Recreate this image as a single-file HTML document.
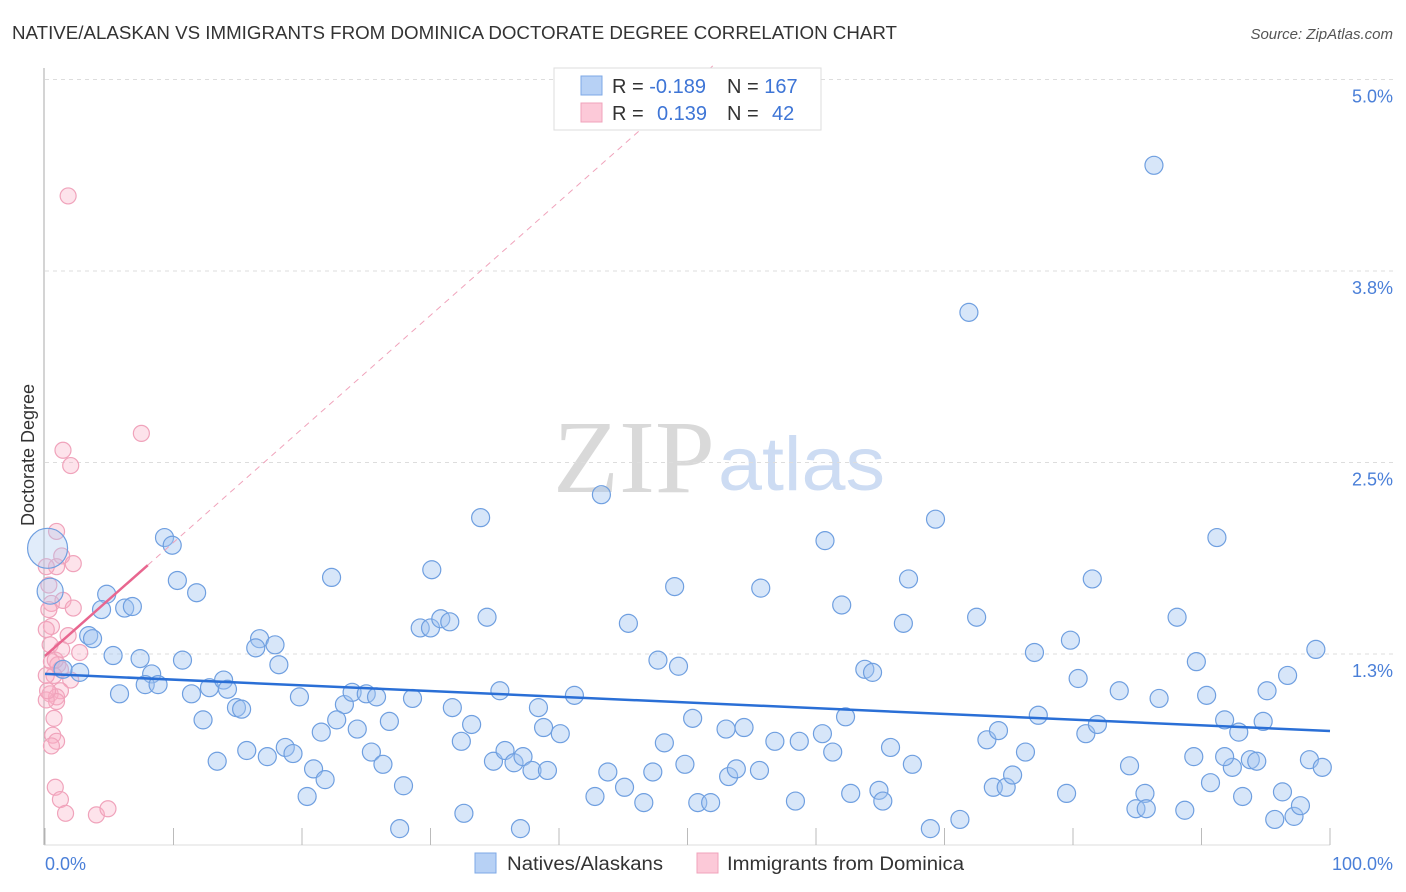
<!DOCTYPE html>
<html><head><meta charset="utf-8"><style>
body{margin:0;background:#fff;font-family:"Liberation Sans",sans-serif;}
svg{display:block}
</style></head><body>
<svg id="chart" width="1406" height="892" viewBox="0 0 1406 892">
<text x="12" y="39" font-size="18" fill="#333" textLength="885" lengthAdjust="spacingAndGlyphs">NATIVE/ALASKAN VS IMMIGRANTS FROM DOMINICA DOCTORATE DEGREE CORRELATION CHART</text>
<text x="1393" y="39" font-size="15" fill="#555" font-style="italic" text-anchor="end">Source: ZipAtlas.com</text>
<text x="553" y="492" font-size="104" fill="#d9d9d9" font-family="Liberation Serif,serif" textLength="162" lengthAdjust="spacingAndGlyphs">ZIP</text>
<text x="718" y="490" font-size="76" fill="#cddcf3" textLength="167" lengthAdjust="spacingAndGlyphs">atlas</text>
<text transform="translate(34,455) rotate(-90)" font-size="18" fill="#333" text-anchor="middle">Doctorate Degree</text>
<g id="grid"></g><g id="marks"></g><g id="trends"></g>
<g>
<rect x="554" y="68" width="267" height="62" fill="#fff" stroke="#ddd"/>
<rect x="581" y="76" width="21" height="19" fill="#b7d1f5" stroke="#7ea8e6"/>
<rect x="581" y="103" width="21" height="19" fill="#fcc9d8" stroke="#f0a3bb"/>
<text x="612" y="93" font-size="20" fill="#333">R = <tspan fill="#3e75d6">-0.189</tspan><tspan x="727">N = </tspan><tspan fill="#3e75d6">167</tspan></text>
<text x="612" y="120" font-size="20" fill="#333">R = <tspan x="657" fill="#3e75d6">0.139</tspan><tspan x="727">N = </tspan><tspan x="772" fill="#3e75d6">42</tspan></text>
</g>
<g>
<rect x="475" y="853" width="21" height="20" fill="#b7d1f5" stroke="#7ea8e6"/>
<text x="507" y="870" font-size="19" fill="#333" textLength="156" lengthAdjust="spacingAndGlyphs">Natives/Alaskans</text>
<rect x="697" y="853" width="21" height="20" fill="#fcc9d8" stroke="#f0a3bb"/>
<text x="727" y="870" font-size="19" fill="#333" textLength="237" lengthAdjust="spacingAndGlyphs">Immigrants from Dominica</text>
</g>
<text x="45" y="870" font-size="18" fill="#4a7fd8">0.0%</text>
<text x="1393" y="870" font-size="18" fill="#4a7fd8" text-anchor="end">100.0%</text>
</svg>
<script>
const yTicks=[1.25,2.5,3.75,5.0];
const yTickLabels=["1.3%","2.5%","3.8%","5.0%"];
const xTicks=[0,10,20,30,40,50,60,70,80,90,100];
const blueX=[9.3,9.9,10.3,11.8,4.8,4.4,6.2,6.8,3.4,3.7,5.3,7.4,10.7,8.3,2.7,1.4,5.8,7.8,8.8,11.4,12.8,13.9,14.2,12.3,14.9,15.3,13.4,15.7,17.3,16.7,17.9,16.4,18.2,19.8,18.7,19.3,20.9,21.8,20.4,22.3,23.3,22.7,21.5,24.3,23.9,25.0,25.8,26.8,25.4,26.3,27.9,27.6,28.6,30.1,29.2,30.0,30.8,31.5,31.7,32.4,33.2,33.9,34.4,32.6,34.9,35.8,36.5,37.2,37.9,35.4,37.0,38.4,38.8,39.1,40.1,41.2,43.3,43.8,42.8,45.1,45.4,46.6,47.3,47.7,48.2,49.0,49.3,49.8,50.4,50.8,51.8,53.0,53.2,53.8,54.4,55.6,55.7,56.8,58.4,58.7,60.7,60.5,61.3,62.0,62.3,62.7,63.8,64.4,64.9,65.2,65.8,66.8,67.2,67.5,69.3,68.9,71.2,71.9,72.5,73.3,73.8,74.2,74.8,75.3,76.3,77.0,77.3,79.5,79.8,80.4,81.0,81.5,81.9,83.6,84.4,84.9,85.6,85.7,86.3,86.7,88.1,88.7,89.4,89.6,90.4,90.7,91.2,91.8,92.4,92.9,93.8,94.3,93.2,94.8,95.1,95.7,96.3,96.7,97.2,97.7,98.4,98.9,99.4,91.8,0.2,0.4];
const blueY=[2.01,1.96,1.73,1.65,1.64,1.54,1.55,1.56,1.37,1.35,1.24,1.22,1.21,1.12,1.13,1.15,0.99,1.05,1.05,0.99,1.03,1.08,1.02,0.82,0.90,0.89,0.55,0.62,0.58,1.35,1.31,1.29,1.18,0.97,0.64,0.60,0.50,0.43,0.32,1.75,0.92,0.82,0.74,0.76,1.00,0.99,0.97,0.81,0.61,0.53,0.39,0.11,0.96,1.80,1.42,1.42,1.48,1.46,0.90,0.68,0.79,2.14,1.49,0.21,0.55,0.62,0.54,0.58,0.49,1.01,0.11,0.90,0.77,0.49,0.73,0.98,2.29,0.48,0.32,0.38,1.45,0.28,0.48,1.21,0.67,1.69,1.17,0.53,0.83,0.28,0.28,0.76,0.45,0.50,0.77,0.49,1.68,0.68,0.29,0.68,1.99,0.73,0.61,1.57,0.84,0.34,1.15,1.13,0.36,0.29,0.64,1.45,1.74,0.53,2.13,0.11,0.17,3.48,1.49,0.69,0.38,0.75,0.38,0.46,0.61,1.26,0.85,0.34,1.34,1.09,0.73,1.74,0.79,1.01,0.52,0.24,0.34,0.24,4.44,0.96,1.49,0.23,0.58,1.20,0.98,0.41,2.01,0.82,0.51,0.74,0.56,0.55,0.32,0.81,1.01,0.17,0.35,1.11,0.19,0.26,0.56,1.28,0.51,0.58,1.94,1.66];
const blueR=blueX.map((v,i)=>i===blueX.length-2?20:(i===blueX.length-1?13:9));
const pinkX=[1.8,7.5,1.4,2.0,0.9,1.3,2.2,0.9,0.1,0.5,1.4,2.2,0.3,0.5,0.1,1.8,2.7,0.5,1.0,1.2,0.7,0.1,2.0,1.2,0.4,0.9,0.9,0.7,0.6,0.9,0.5,0.8,1.2,1.6,4.0,4.9,0.3,0.1,0.4,0.8,0.2,1.3];
const pinkY=[4.24,2.69,2.58,2.48,2.05,1.89,1.84,1.82,1.82,1.58,1.60,1.55,1.54,1.43,1.41,1.37,1.26,1.20,1.18,1.15,1.11,1.11,1.08,1.01,0.99,0.97,0.94,0.83,0.72,0.68,0.65,0.38,0.30,0.21,0.20,0.24,1.70,0.95,1.31,1.21,1.01,1.28];
const blueTrend=[[0,1.12],[100,0.747]];
const pinkTrend=[[0,1.237],[8,1.83]];
const pinkTrendExt=[8,52];

const NS="http://www.w3.org/2000/svg";
const X=v=>45+v*12.85, Y=v=>845.5-v*153.2;
function mk(tag,attrs,parent){const e=document.createElementNS(NS,tag);for(const k in attrs)e.setAttribute(k,attrs[k]);parent.appendChild(e);return e;}
const grid=document.getElementById('grid'),marks=document.getElementById('marks'),trends=document.getElementById('trends');
yTicks.forEach((t,i)=>{
  const l=mk('line',{x1:45,x2:1393,y1:Y(t),y2:Y(t),stroke:'#ddd','stroke-dasharray':'4,4'},grid);
  
  
  const tx=mk('text',{x:1393,y:Y(t)+23,'font-size':18,fill:'#4a7fd8','text-anchor':'end'},grid);
  tx.textContent=yTickLabels[i];
  
  
});
const ax=mk('line',{x1:44,x2:44,y1:68,y2:845,stroke:'#aaa'},grid);


const bx=mk('line',{x1:44,x2:1330,y1:845,y2:845,stroke:'#ddd'},grid);


xTicks.forEach(t=>{
  const l=mk('line',{x1:X(t),x2:X(t),y1:828,y2:845,stroke:'#bbb'},grid);
  
  
});
pinkX.forEach((x,i)=>{
  const c=mk('circle',{cx:X(x),cy:Y(pinkY[i]),r:8,fill:'rgba(248,175,198,0.35)',stroke:'#f0a3bb','stroke-width':1.2},marks);
  
  
});
blueX.forEach((x,i)=>{
  const big=blueR[i]>9;
  const c=mk('circle',{cx:X(x),cy:Y(blueY[i]),r:blueR[i],fill:big?'rgba(170,200,240,0.35)':'rgba(160,195,240,0.42)',stroke:'#6f9fe0','stroke-width':1.2},marks);
  
  
});
const bt=mk('line',{x1:X(blueTrend[0][0]),y1:Y(blueTrend[0][1]),x2:X(blueTrend[1][0]),y2:Y(blueTrend[1][1]),stroke:'#2a6fd6','stroke-width':2.5},trends);


const slope=(pinkTrend[1][1]-pinkTrend[0][1])/(pinkTrend[1][0]-pinkTrend[0][0]);
const pd=mk('line',{x1:X(pinkTrendExt[0]),y1:Y(pinkTrend[0][1]+slope*pinkTrendExt[0]),x2:X(pinkTrendExt[1]),y2:Y(pinkTrend[0][1]+slope*pinkTrendExt[1]),stroke:'#f0a3bb','stroke-width':1,'stroke-dasharray':'6,5'},trends);


const pt=mk('line',{x1:X(pinkTrend[0][0]),y1:Y(pinkTrend[0][1]),x2:X(pinkTrend[1][0]),y2:Y(pinkTrend[1][1]),stroke:'#e8668f','stroke-width':2.5},trends);


</script>
</body></html>
